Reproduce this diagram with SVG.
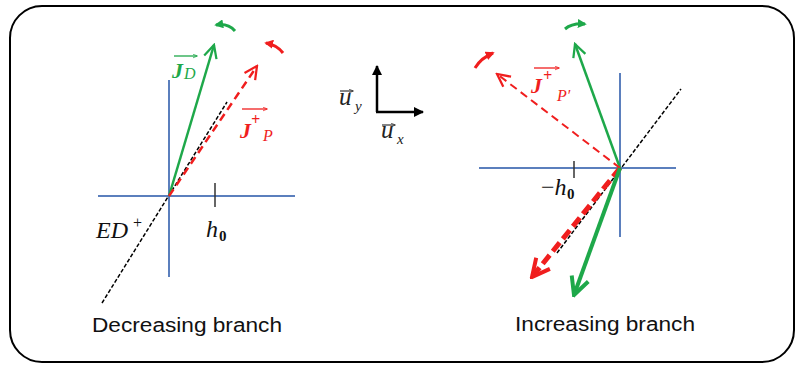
<svg xmlns="http://www.w3.org/2000/svg" width="797" height="368" viewBox="0 0 797 368">
<defs>
<style>
.axis{stroke:#5b7fbd;stroke-width:2;fill:none}
.ed{stroke:#000;stroke-width:1.5;stroke-dasharray:4,2;fill:none}
.g{stroke:#1ea84a;fill:none}
.r{stroke:#f01e1e;fill:none}
.lbl{font-family:"Liberation Serif",serif;font-style:italic}
.cap{font-family:"Liberation Sans",sans-serif;font-size:20px;fill:#111}
</style>
<marker id="og" viewBox="0 0 20 20" refX="18" refY="10" markerWidth="16" markerHeight="16" markerUnits="userSpaceOnUse" orient="auto"><path d="M2,2 L18,10 L2,18" fill="none" stroke="#1ea84a" stroke-width="2.8"/></marker>
<marker id="or" viewBox="0 0 20 20" refX="18" refY="10" markerWidth="16" markerHeight="16" markerUnits="userSpaceOnUse" orient="auto"><path d="M2,2 L18,10 L2,18" fill="none" stroke="#f01e1e" stroke-width="2.8"/></marker>
<marker id="ogT" viewBox="0 0 20 20" refX="18" refY="10" markerWidth="22" markerHeight="22" markerUnits="userSpaceOnUse" orient="auto"><path d="M2,2 L18,10 L2,18" fill="none" stroke="#1ea84a" stroke-width="3.6"/></marker>
<marker id="orT" viewBox="0 0 20 20" refX="18" refY="10" markerWidth="22" markerHeight="22" markerUnits="userSpaceOnUse" orient="auto"><path d="M2,2 L18,10 L2,18" fill="none" stroke="#f01e1e" stroke-width="3.6"/></marker>
<marker id="fg" viewBox="0 0 10 10" refX="8" refY="5" markerWidth="9" markerHeight="9" markerUnits="userSpaceOnUse" orient="auto"><path d="M0,0 L10,5 L0,10 z" fill="#1ea84a"/></marker>
<marker id="fr" viewBox="0 0 10 10" refX="8" refY="5" markerWidth="9" markerHeight="9" markerUnits="userSpaceOnUse" orient="auto"><path d="M0,0 L10,5 L0,10 z" fill="#f01e1e"/></marker>
<marker id="fk" viewBox="0 0 10 10" refX="9" refY="5" markerWidth="10" markerHeight="10" markerUnits="userSpaceOnUse" orient="auto"><path d="M0,0 L10,5 L0,10 z" fill="#000"/></marker>
<marker id="sg" viewBox="0 0 10 10" refX="9" refY="5" markerWidth="5" markerHeight="5" markerUnits="userSpaceOnUse" orient="auto"><path d="M0,1 L10,5 L0,9" fill="none" stroke="#1ea84a" stroke-width="1.5"/></marker>
<marker id="sr" viewBox="0 0 10 10" refX="9" refY="5" markerWidth="5" markerHeight="5" markerUnits="userSpaceOnUse" orient="auto"><path d="M0,1 L10,5 L0,9" fill="none" stroke="#f01e1e" stroke-width="1.5"/></marker>
<marker id="sk" viewBox="0 0 10 10" refX="9" refY="5" markerWidth="5" markerHeight="5" markerUnits="userSpaceOnUse" orient="auto"><path d="M0,1 L10,5 L0,9" fill="none" stroke="#333" stroke-width="1.5"/></marker>
</defs>
<rect x="10" y="6" width="784" height="356" rx="32" ry="32" fill="#fff" stroke="#000" stroke-width="2"/>

<g id="left-axes">
<line class="axis" x1="169" y1="80" x2="169" y2="277"/>
<line class="axis" x1="98" y1="196" x2="295" y2="196"/>
<line x1="215" y1="183" x2="215" y2="207" stroke="#333" stroke-width="1.5"/>
</g>
<g id="right-axes">
<line class="axis" x1="620" y1="73" x2="620" y2="237"/>
<line class="axis" x1="479" y1="168" x2="676" y2="168"/>
<line x1="574" y1="161" x2="574" y2="178" stroke="#333" stroke-width="1.5"/>
</g>

<g id="connectors">
<line class="ed" x1="102" y1="303" x2="227" y2="102"/>
<line class="ed" x1="557" y1="253" x2="681" y2="89"/>
<line class="g" stroke-width="2.5" x1="169" y1="196" x2="214" y2="45" marker-end="url(#og)"/>
<line class="r" stroke-width="2.5" stroke-dasharray="8,5" x1="169" y1="196" x2="257" y2="66" marker-end="url(#or)"/>
<line class="g" stroke-width="2.5" x1="620" y1="168" x2="575" y2="44" marker-end="url(#og)"/>
<line class="r" stroke-width="2" stroke-dasharray="8,5" x1="620" y1="168" x2="497" y2="74" marker-end="url(#or)"/>
<line class="r" stroke-width="5" stroke-dasharray="11,5" x1="620" y1="168" x2="532" y2="277" marker-end="url(#orT)"/>
<line class="g" stroke-width="4" x1="620" y1="168" x2="574" y2="295" marker-end="url(#ogT)"/>
<path class="g" stroke-width="3" d="M235,31 Q228,23 216,25" marker-end="url(#fg)"/>
<path class="r" stroke-width="3" d="M283,53 Q277,45 266,43" marker-end="url(#fr)"/>
<path class="g" stroke-width="3" d="M565,29 Q572,23 585,24" marker-end="url(#fg)"/>
<path class="r" stroke-width="3" d="M475,68 Q481,58 493,53" marker-end="url(#fr)"/>
<line x1="377" y1="112" x2="377" y2="66" stroke="#000" stroke-width="2.5" marker-end="url(#fk)"/>
<line x1="376" y1="112" x2="423" y2="112" stroke="#000" stroke-width="2.5" marker-end="url(#fk)"/>
</g>

<g id="label-JD">
<text class="lbl" x="172" y="78" font-size="22" font-weight="bold" fill="#1ea84a">J</text>
<text class="lbl" x="184" y="79" font-size="16" fill="#1ea84a">D</text>
<line x1="174" y1="56" x2="197" y2="56" stroke="#1ea84a" stroke-width="1.3" marker-end="url(#sg)"/>
</g>
<g id="label-JP">
<text class="lbl" x="240" y="138" font-size="22" font-weight="bold" fill="#f01e1e">J</text>
<text class="lbl" x="251" y="125" font-size="16" font-weight="bold" fill="#f01e1e">+</text>
<text class="lbl" x="263" y="141" font-size="16" fill="#f01e1e">P</text>
<line x1="242" y1="109" x2="267" y2="109" stroke="#f01e1e" stroke-width="1.3" marker-end="url(#sr)"/>
</g>
<g id="label-JPp">
<text class="lbl" x="531" y="93" font-size="22" font-weight="bold" fill="#f01e1e">J</text>
<text class="lbl" x="543" y="81" font-size="16" font-weight="bold" fill="#f01e1e">+</text>
<text class="lbl" x="557" y="101" font-size="16" fill="#f01e1e">P′</text>
<line x1="534" y1="68" x2="559" y2="68" stroke="#f01e1e" stroke-width="1.3" marker-end="url(#sr)"/>
</g>
<g id="label-ED">
<text class="lbl" x="96" y="238" font-size="24" fill="#111">ED</text>
<text x="133" y="228" font-size="16" font-family="Liberation Serif,serif" fill="#111">+</text>
</g>
<g id="label-h0">
<text class="lbl" x="206" y="237" font-size="24" fill="#111">h</text>
<text x="219" y="241" font-size="15" font-weight="bold" font-family="Liberation Serif,serif" fill="#111">0</text>
</g>
<g id="label-mh0">
<text x="541" y="195" font-size="24" font-family="Liberation Serif,serif" fill="#111">−<tspan font-style="italic">h</tspan></text>
<text x="567" y="199" font-size="15" font-weight="bold" font-family="Liberation Serif,serif" fill="#111">0</text>
</g>
<g id="label-uy">
<text class="lbl" x="339" y="105" font-size="25" fill="#222">u</text>
<text class="lbl" x="355" y="111" font-size="15" fill="#222">y</text>
<line x1="340" y1="91" x2="353" y2="91" stroke="#333" stroke-width="1.2" marker-end="url(#sk)"/>
</g>
<g id="label-ux">
<text class="lbl" x="381" y="138" font-size="25" fill="#222">u</text>
<text class="lbl" x="397" y="144" font-size="15" fill="#222">x</text>
<line x1="382" y1="125" x2="395" y2="125" stroke="#333" stroke-width="1.2" marker-end="url(#sk)"/>
</g>
<g id="caption-left"><text class="cap" x="92" y="332" textLength="190" lengthAdjust="spacingAndGlyphs">Decreasing branch</text></g>
<g id="caption-right"><text class="cap" x="515" y="331" textLength="180" lengthAdjust="spacingAndGlyphs">Increasing branch</text></g>
</svg>
